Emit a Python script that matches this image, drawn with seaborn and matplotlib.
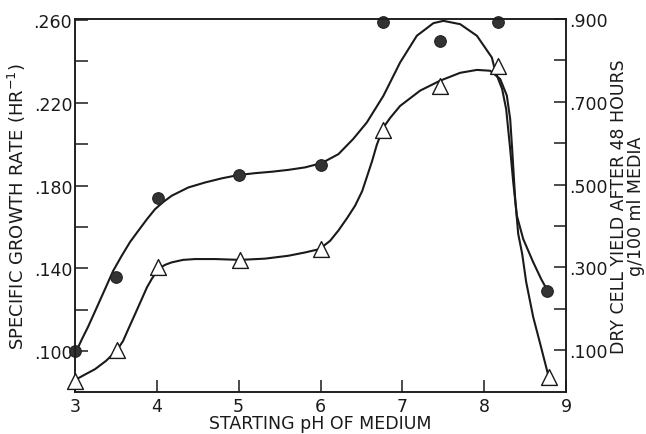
import numpy as np
import pandas as pd
import matplotlib
matplotlib.use("Agg")
import matplotlib.pyplot as plt
import seaborn as sns

# ---- data ----
ph_rate = [3.0, 3.5, 4.02, 5.0, 6.0, 6.76, 7.46, 8.17, 8.77]
growth_rate = [0.100, 0.136, 0.174, 0.185, 0.190, 0.259, 0.250, 0.259, 0.129]

ph_yield = [3.0, 3.51, 4.02, 5.02, 6.0, 6.76, 7.46, 8.17, 8.79]
cell_yield = [0.026, 0.100, 0.300, 0.318, 0.344, 0.633, 0.739, 0.786, 0.034]

# hand-fitted curves
rate_curve_ph = [3.012, 3.086, 3.159, 3.257, 3.367, 3.465, 3.571, 3.672, 3.774, 3.880,
                 3.978, 4.076, 4.182, 4.385, 4.589, 4.793, 4.996, 5.200, 5.405, 5.608,
                 5.812, 6.016, 6.219, 6.399, 6.566, 6.769, 6.973, 7.177, 7.380, 7.502,
                 7.707, 7.911, 8.094, 8.135, 8.220, 8.269, 8.318, 8.355, 8.400, 8.477,
                 8.599, 8.697, 8.782]
rate_curve_val = [0.0996, 0.1059, 0.1117, 0.1203, 0.1300, 0.1387, 0.1461, 0.1527, 0.1582, 0.1638,
                  0.1686, 0.1720, 0.1751, 0.1791, 0.1815, 0.1835, 0.1851, 0.1860, 0.1867, 0.1876,
                  0.1888, 0.1909, 0.1952, 0.2025, 0.2105, 0.2234, 0.2395, 0.2524, 0.2585, 0.2596,
                  0.2580, 0.2524, 0.2419, 0.2353, 0.2266, 0.2169, 0.1976, 0.1817, 0.1654, 0.1542,
                  0.1430, 0.1348, 0.1287]

yield_curve_ph = [3.021, 3.122, 3.245, 3.379, 3.510, 3.587, 3.652, 3.734, 3.815, 3.880,
                  3.938, 4.018, 4.100, 4.182, 4.320, 4.467, 4.712, 5.017, 5.323, 5.608,
                  5.812, 5.987, 6.117, 6.219, 6.325, 6.423, 6.509, 6.566, 6.631, 6.688,
                  6.769, 6.851, 6.973, 7.218, 7.462, 7.707, 7.911, 8.073, 8.196, 8.277,
                  8.318, 8.342, 8.379, 8.416, 8.465, 8.513, 8.599, 8.685, 8.786]
yield_curve_val = [0.030, 0.041, 0.054, 0.074, 0.099, 0.122, 0.151, 0.187, 0.223, 0.252,
                   0.272, 0.296, 0.306, 0.312, 0.318, 0.320, 0.320, 0.318, 0.321, 0.328,
                   0.336, 0.344, 0.364, 0.389, 0.419, 0.449, 0.484, 0.518, 0.557, 0.596,
                   0.638, 0.661, 0.690, 0.727, 0.751, 0.770, 0.777, 0.775, 0.755, 0.715,
                   0.658, 0.586, 0.465, 0.381, 0.332, 0.265, 0.180, 0.115, 0.037]

x_ticks = [3, 4, 5, 6, 7, 8, 9]
left_major = [0.100, 0.140, 0.180, 0.220, 0.260]
left_minor = [0.120, 0.160, 0.200, 0.240]
right_major = [0.100, 0.300, 0.500, 0.700, 0.900]
right_minor = [0.200, 0.400, 0.600, 0.800]

sns.set_style("white")
plt.rcParams["font.family"] = ["DejaVu Sans"]
plt.rcParams["font.size"] = 12.5

fig = plt.figure(figsize=(6.46, 4.35), dpi=100)
ax = fig.add_axes([75 / 646, 1 - 392.5 / 435, (566 - 75) / 646, (392.5 - 20) / 435])
ax2 = ax.twinx()

ink = "#1a1a1a"

df_rc = pd.DataFrame({"ph": rate_curve_ph, "v": rate_curve_val})
df_yc = pd.DataFrame({"ph": yield_curve_ph, "v": yield_curve_val})
df_r = pd.DataFrame({"ph": ph_rate, "v": growth_rate})
df_y = pd.DataFrame({"ph": ph_yield, "v": cell_yield})

sns.lineplot(data=df_rc, x="ph", y="v", ax=ax, sort=False, estimator=None,
             color=ink, linewidth=1.5, zorder=2)
sns.lineplot(data=df_yc, x="ph", y="v", ax=ax2, sort=False, estimator=None,
             color=ink, linewidth=1.5, zorder=2)
sns.scatterplot(data=df_r, x="ph", y="v", ax=ax, marker="o", s=70,
                color="#333333", edgecolor="#222222", linewidth=0.8, zorder=3, clip_on=False)
sns.scatterplot(data=df_y, x="ph", y="v", ax=ax2, marker="^", s=130,
                facecolor="white", edgecolor=ink, linewidth=1.0, zorder=3, clip_on=False)

ax.set_xlim(3, 9)
ax.set_ylim(0.0805, 0.2605)
ax2.set_ylim(0.0, 0.9)

ax.set_xticks(x_ticks)
ax.set_xticklabels([str(t) for t in x_ticks])
ax.set_yticks(left_major)
ax.set_yticklabels([f"{v:.3f}".lstrip("0") for v in left_major])
ax.set_yticks(left_minor, minor=True)
ax2.set_yticks(right_major)
ax2.set_yticklabels([f"{v:.3f}".lstrip("0") for v in right_major])
ax2.set_yticks(right_minor, minor=True)

for a in (ax, ax2):
    for sp in a.spines.values():
        sp.set_visible(True)
        sp.set_color(ink)
        sp.set_linewidth(1.1)
    a.tick_params(which="both", direction="in", length=9, width=1.1, color=ink,
                  labelsize=12.5, labelcolor=ink)

ax.tick_params(axis="y", which="both", left=True, right=False, pad=2)
ax.tick_params(axis="x", which="both", bottom=True, top=False, pad=4)
ax2.tick_params(axis="y", which="both", right=True, left=False, pad=2)

ax.set_xlabel("STARTING pH OF MEDIUM", fontsize=12.5, color=ink, labelpad=-1)
ax.set_ylabel("SPECIFIC GROWTH RATE (HR$^{-1}$)", fontsize=13, color=ink, labelpad=4)
ax2.set_ylabel("DRY CELL YIELD AFTER 48 HOURS\ng/100 ml MEDIA", fontsize=12.5,
               color=ink, labelpad=2, linespacing=0.95, multialignment="center")

fig.savefig("out.png", dpi=100, facecolor="white")
